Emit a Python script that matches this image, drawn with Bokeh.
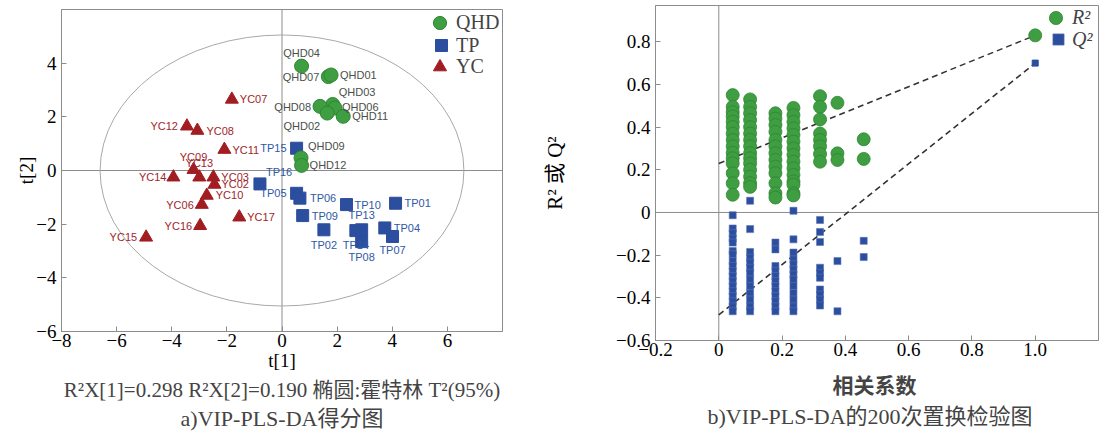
from bokeh.plotting import figure
from bokeh.models import ColumnDataSource, FixedTicker, Span, Legend, LegendItem, Title
from bokeh.layouts import row, column
from bokeh.embed import file_html
from bokeh.resources import INLINE
from bokeh.core.properties import value

# ---------------- panel a: PLS-DA scores ----------------
qhd_names = ["QHD04", "QHD07", "QHD01", "QHD03", "QHD06", "QHD08", "QHD02", "QHD11", "QHD09", "QHD12"]
qhd_t1 = [0.71, 1.68, 1.78, 1.84, 1.92, 1.38, 1.64, 2.22, 0.69, 0.71]
qhd_t2 = [3.89, 3.50, 3.56, 2.46, 2.33, 2.39, 2.14, 2.02, 0.47, 0.19]

tp_names = ["TP15", "TP16", "TP05", "TP06", "TP09", "TP10", "TP01", "TP02", "TP13", "TP14", "TP08", "TP04", "TP07"]
tp_t1 = [0.53, -0.80, 0.53, 0.65, 0.75, 2.34, 4.12, 1.52, 2.89, 2.68, 2.89, 3.73, 4.01]
tp_t2 = [0.83, -0.50, -0.85, -1.03, -1.68, -1.27, -1.22, -2.21, -2.21, -2.24, -2.65, -2.14, -2.46]

yc_names = ["YC07", "YC12", "YC08", "YC11", "YC09", "YC13", "YC14", "YC03", "YC02", "YC10", "YC06", "YC17", "YC16", "YC15"]
yc_t1 = [-1.82, -3.45, -3.07, -2.09, -3.21, -3.00, -3.94, -2.49, -2.45, -2.73, -2.91, -1.55, -2.97, -4.93]
yc_t2 = [2.65, 1.65, 1.49, 0.78, 0.03, -0.25, -0.25, -0.25, -0.52, -0.93, -1.27, -1.74, -2.06, -2.49]

# Hotelling T2 (95%) ellipse semi-axes
ell_a = 6.6
ell_b = 5.05

a_xticks = [-8, -6, -4, -2, 0, 2, 4, 6]
a_yticks = [-6, -4, -2, 0, 2, 4]

# label placement (style): pixel offsets and alignment
qhd_dx = [0, -9, 9, 6, 7, -9, -7, 9, 7, 8]
qhd_dy = [-13, 0, 0, -12, -1, 1, 13, 0, -12, 0]
qhd_al = ["center", "right", "left", "left", "left", "right", "right", "left", "left", "left"]
tp_dx = [-10, 6, -10, 10, 9, 8, 9, 0, 0, 0, 0, 9, 0]
tp_dy = [0, -12, 0, 0, 0, 0, 0, 15, -15, 14, 15, 0, 13]
tp_al = ["right", "left", "right", "left", "left", "left", "left", "center", "center", "center", "center", "left", "center"]
yc_dx = [8, -9, 9, 8, 0, 0, -7, 8, 7, 9, -8, 8, -8, -9]
yc_dy = [0, 0, 0, 0, -13, -14, 0, 0, 0, 0, 0, 0, 0, 0]
yc_al = ["left", "right", "left", "left", "center", "center", "right", "left", "left", "left", "right", "left", "right", "right"]

# ---------------- panel b: 200 permutations ----------------
perm_corr = [0.044, 0.099, 0.179, 0.236, 0.320, 0.375, 0.458]
r2_perm = [
    [0.55, 0.495, 0.47, 0.45, 0.425, 0.40, 0.37, 0.34, 0.31, 0.28, 0.254, 0.23, 0.184, 0.137, 0.083],
    [0.53, 0.495, 0.465, 0.433, 0.40, 0.37, 0.34, 0.31, 0.278, 0.254, 0.23, 0.20, 0.168, 0.137, 0.12],
    [0.465, 0.44, 0.41, 0.378, 0.34, 0.31, 0.278, 0.246, 0.215, 0.184, 0.137, 0.09, 0.07],
    [0.49, 0.456, 0.425, 0.394, 0.363, 0.332, 0.30, 0.27, 0.238, 0.207, 0.176, 0.145, 0.13, 0.09, 0.08],
    [0.545, 0.495, 0.436, 0.37, 0.34, 0.31, 0.274, 0.238],
    [0.514, 0.277, 0.246],
    [0.343, 0.251],
]
q2_perm = [
    [-0.013, -0.075, -0.097, -0.122, -0.141, -0.18, -0.196, -0.228, -0.251, -0.275, -0.298, -0.322, -0.345,
     -0.369, -0.392, -0.416, -0.44, -0.463],
    [0.055, -0.078, -0.185, -0.212, -0.235, -0.259, -0.283, -0.314, -0.345, -0.377, -0.408, -0.44, -0.463],
    [-0.141, -0.173, -0.251, -0.275, -0.298, -0.322, -0.345, -0.369, -0.392, -0.416, -0.44, -0.463],
    [0.008, -0.126, -0.188, -0.22, -0.243, -0.267, -0.29, -0.314, -0.345, -0.377, -0.408, -0.44, -0.463],
    [-0.035, -0.091, -0.138, -0.259, -0.283, -0.306, -0.361, -0.385, -0.408, -0.436],
    [-0.228, -0.463],
    [-0.133, -0.209],
]
orig_corr = 1.0
r2_orig = 0.83
q2_orig = 0.70
line_x = [0.0, 1.0]
r2_line_y = [0.23, 0.83]
q2_line_y = [-0.48, 0.70]

b_xticks = [-0.2, 0.0, 0.2, 0.4, 0.6, 0.8, 1.0]
b_xlabels = ["\u22120.2", "0", "0.2", "0.4", "0.6", "0.8", "1.0"]
b_yticks = [-0.6, -0.4, -0.2, 0.0, 0.2, 0.4, 0.6, 0.8]
b_ylabels = ["\u22120.6", "\u22120.4", "\u22120.2", "0", "0.2", "0.4", "0.6", "0.8"]

# ---------------- styles ----------------
SERIF = "Liberation Serif"
MIXED = "'Liberation Serif', 'Noto Sans CJK SC'"
GREEN = "#3f9e41"
GREEN_EDGE = "#2e8732"
BLUE = "#2c4e9e"
RED = "#a11d22"
GRAY = "#8c8c8c"


def minus(v):
    s = f"{v:g}"
    return s.replace("-", "\u2212")


def style_axes(p, xticks, xlabels, yticks, ylabels, xlab, ylab):
    p.grid.visible = False
    p.outline_line_color = GRAY
    p.xaxis.ticker = FixedTicker(ticks=xticks)
    p.yaxis.ticker = FixedTicker(ticks=yticks)
    p.xaxis.major_label_overrides = {t: l for t, l in zip(xticks, xlabels)}
    p.yaxis.major_label_overrides = {t: l for t, l in zip(yticks, ylabels)}
    for ax in (p.xaxis[0], p.yaxis[0]):
        ax.major_tick_in = 5
        ax.major_tick_out = 0
        ax.minor_tick_line_color = None
        ax.axis_line_color = GRAY
        ax.major_tick_line_color = GRAY
        ax.major_label_text_font = SERIF
        ax.major_label_text_font_size = "19px"
        ax.major_label_text_color = "black"
        ax.axis_label_text_font = MIXED
        ax.axis_label_text_font_style = "normal"
        ax.axis_label_text_color = "black"
    if xlab:
        p.xaxis.axis_label = xlab
    p.yaxis.axis_label = ylab
    p.xaxis.major_label_standoff = 2
    p.yaxis.major_label_standoff = 5


def single_legend(p, renderer, label, cx, cy, msize, italic=False):
    """One-entry legend; (cx, cy) = marker centre in frame pixels from bottom-left."""
    box = int(round(msize / 0.4))
    leg = Legend(items=[LegendItem(label=label, renderers=[renderer])],
                 location=(int(round(cx - box / 2)), int(round(cy - box / 2))),
                 margin=0, padding=0, spacing=0, glyph_width=box, glyph_height=box,
                 label_height=box, label_standoff=0,
                 border_line_color=None, background_fill_alpha=0,
                 label_text_font=SERIF, label_text_font_size="20px",
                 label_text_font_style="italic" if italic else "normal")
    p.add_layout(leg)


# ---------------- figure a ----------------
p1 = figure(width=540, height=436, x_range=(-8, 8), y_range=(-6, 6),
            output_backend="svg", toolbar_location=None,
            min_border_left=61, min_border_right=38, min_border_top=9, min_border_bottom=105)
style_axes(p1, a_xticks, [minus(t) for t in a_xticks], a_yticks, [minus(t) for t in a_yticks], "t[1]", "t[2]")
p1.xaxis.axis_label_text_font_size = "19px"
p1.yaxis.axis_label_text_font_size = "19px"
p1.xaxis.axis_label_standoff = 0
p1.yaxis.axis_label_standoff = -4

p1.add_layout(Span(location=0, dimension="width", line_color=GRAY, line_width=1, level="underlay"))
p1.add_layout(Span(location=0, dimension="height", line_color=GRAY, line_width=1, level="underlay"))
p1.ellipse(x=[0], y=[0], width=[2 * ell_a], height=[2 * ell_b], fill_color=None,
           line_color="#a8a8a8", line_width=1)

src_q = ColumnDataSource(dict(x=qhd_t1, y=qhd_t2, n=qhd_names, dx=qhd_dx, dy=qhd_dy, al=qhd_al))
src_t = ColumnDataSource(dict(x=tp_t1, y=tp_t2, n=tp_names, dx=tp_dx, dy=tp_dy, al=tp_al))
src_y = ColumnDataSource(dict(x=yc_t1, y=yc_t2, n=yc_names, dx=yc_dx, dy=yc_dy, al=yc_al))

r_y = p1.scatter("x", "y", source=src_y, marker="triangle", size=13, fill_color=RED, line_color=RED)
r_t = p1.scatter("x", "y", source=src_t, marker="square", size=12, fill_color=BLUE, line_color=BLUE)
r_q = p1.scatter("x", "y", source=src_q, marker="circle", size=14, fill_color=GREEN, line_color=GREEN_EDGE)

for src, col in ((src_q, "#4a4f4a"), (src_t, "#2f58a6"), (src_y, "#a0262a")):
    p1.text("x", "y", text="n", source=src, x_offset="dx", y_offset="dy", text_align="al",
            text_baseline="middle", text_font=value("Liberation Sans"), text_font_size="11px",
            text_color=col)

single_legend(p1, r_q, "QHD", 378, 309, 13.2)
single_legend(p1, r_t, "TP", 380, 286, 12)
single_legend(p1, r_y, "YC", 378, 264, 13.2)

p1.add_layout(Title(text="R²X[1]=0.298 R²X[2]=0.190 椭圆:霍特林 T²(95%)", align="center", text_font=MIXED,
                    text_font_size="21px", text_font_style="normal", standoff=4), "below")
p1.add_layout(Title(text="a)VIP-PLS-DA得分图", align="center", text_font=MIXED, text_font_size="22px",
                    text_font_style="normal", standoff=0), "below")

# ---------------- figure b ----------------
p2 = figure(width=568, height=436, x_range=(-0.2, 1.2), y_range=(-0.6, 0.97),
            output_backend="svg", toolbar_location=None,
            min_border_left=110, min_border_right=10, min_border_top=5, min_border_bottom=96)
style_axes(p2, b_xticks, b_xlabels, b_yticks, b_ylabels, None, "R² 或 Q²")
p2.yaxis.axis_label_text_font_size = "21px"
p2.yaxis.axis_label_standoff = 46

p2.add_layout(Span(location=0, dimension="width", line_color=GRAY, line_width=1, level="underlay"))
p2.add_layout(Span(location=0, dimension="height", line_color=GRAY, line_width=1, level="underlay"))

rx, ry, qx, qy = [], [], [], []
for c, rv, qv in zip(perm_corr, r2_perm, q2_perm):
    rx += [c] * len(rv)
    ry += rv
    qx += [c] * len(qv)
    qy += qv
rx.append(orig_corr)
ry.append(r2_orig)

p2.line(line_x, r2_line_y, line_color="#333333", line_width=1.6, line_dash="6 4")
p2.line(line_x, q2_line_y, line_color="#333333", line_width=1.6, line_dash="6 4")
r_r2 = p2.scatter(rx, ry, marker="circle", size=13, fill_color=GREEN, line_color=GREEN_EDGE, line_width=0.8)
r_q2 = p2.scatter(qx, qy, marker="square", size=7, fill_color=BLUE, line_color="#5670b5", line_width=0.6)
p2.scatter([orig_corr], [q2_orig], marker="square", size=6, fill_color=BLUE, line_color=BLUE)

single_legend(p2, r_r2, "R²", 400, 323, 13.2, italic=True)
single_legend(p2, r_q2, "Q²", 403, 301, 11.2, italic=True)

# spacer between tick labels and the x-axis title
p2.add_layout(Title(text=" ", text_font_size="8px", standoff=0), "below")
p2.add_layout(Title(text="相关系数", align="left", offset=177, text_font=MIXED, text_font_size="21px",
                    text_font_style="bold", standoff=5), "below")
p2.add_layout(Title(text="b)VIP-PLS-DA的200次置换检验图", align="left", offset=52, text_font=MIXED,
                    text_font_size="22px", text_font_style="normal", standoff=2), "below")

layout = row(column(p1), column(p2))
open("out.html", "w").write(file_html(layout, INLINE))
